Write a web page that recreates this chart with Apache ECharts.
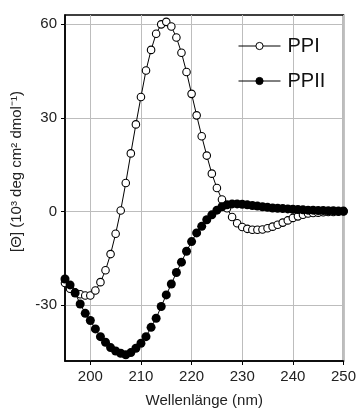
<!DOCTYPE html>
<html>
<head>
<meta charset="utf-8">
<script src="https://cdn.jsdelivr.net/npm/echarts@6/dist/echarts.min.js"></script>
<style>
  html, body { margin: 0; padding: 0; background: #fff; }
  #chart { width: 359px; height: 413px; }
</style>
</head>
<body>
<div id="chart"></div>
<script>
// Wellenlänge in nm, Schritt 1 nm
const wavelengths = [];
for (let nm = 195; nm <= 250; nm++) wavelengths.push(nm);

// [Θ] in 10^3 deg cm2 dmol-1
const ppiValues = [
  -23.0, -24.8, -26.0, -26.6, -27.0, -27.0, -25.4, -22.7, -18.9, -13.7,
  -7.2, 0.3, 9.1, 18.6, 27.9, 36.7, 45.2, 51.8, 57.0, 60.0,
  60.8, 59.3, 55.8, 50.9, 44.7, 37.7, 30.8, 24.1, 17.9, 12.1,
  7.5, 3.8, 1.0, -1.8, -3.8, -5.0, -5.6, -5.9, -5.9, -5.8,
  -5.4, -4.9, -4.3, -3.6, -2.9, -2.1, -1.6, -1.1, -0.7, -0.5,
  -0.4, -0.3, -0.2, -0.2, -0.1, 0.0
];
const ppiiValues = [
  -21.7, -23.6, -26.2, -29.7, -32.7, -35.0, -37.7, -40.2, -42.0, -43.7,
  -44.8, -45.5, -46.0, -45.3, -43.9, -42.3, -40.2, -37.2, -34.3, -30.5,
  -26.8, -23.3, -19.6, -16.3, -12.8, -9.7, -6.9, -4.8, -2.7, -1.1,
  0.4, 1.5, 2.1, 2.4, 2.4, 2.3, 2.1, 1.9, 1.7, 1.5,
  1.3, 1.1, 1.0, 0.9, 0.8, 0.7, 0.6, 0.5, 0.4, 0.4,
  0.3, 0.3, 0.2, 0.2, 0.1, 0.1
];
const xTicks = [200, 210, 220, 230, 240, 250];
const yTicks = [-30, 0, 30, 60];

const font = 'Liberation Sans, Arial, sans-serif';
const chart = echarts.init(document.getElementById('chart'));

const option = {
  animation: false,
  backgroundColor: '#fff',
  grid: {
    left: 65,
    right: 12,
    top: 15,
    bottom: 51,
    show: true,
    borderColor: '#000',
    borderWidth: 1.5
  },
  legend: {
    orient: 'vertical',
    left: 233,
    top: 31,
    itemWidth: 42,
    itemHeight: 9,
    itemGap: 15,
    lineStyle: { width: 1 },
    itemStyle: { borderWidth: 1 },
    textStyle: {
      fontFamily: font,
      fontSize: 20,
      color: '#111',
      padding: [0, 0, 0, 2]
    },
    data: ['PPI', 'PPII']
  },
  xAxis: {
    type: 'value',
    min: 195,
    max: 250,
    name: 'Wellenlänge (nm)',
    nameLocation: 'middle',
    nameGap: 32,
    nameTextStyle: { fontFamily: font, fontSize: 15, color: '#222' },
    axisLine: { show: true, onZero: false, lineStyle: { color: '#000', width: 1.5 } },
    axisTick: {
      show: true,
      inside: false,
      length: 4,
      customValues: xTicks,
      lineStyle: { color: '#000' }
    },
    axisLabel: {
      customValues: xTicks,
      margin: 8,
      fontFamily: font,
      fontSize: 15,
      color: '#222'
    },
    splitLine: { show: true, lineStyle: { color: '#bdbdbd', width: 1 } }
  },
  yAxis: {
    type: 'value',
    min: -48,
    max: 63,
    name: '[Θ] (10³ deg cm² dmol⁻¹)',
    nameLocation: 'middle',
    nameGap: 32,
    nameRotate: 90,
    nameTextStyle: {
      fontFamily: font,
      fontSize: 15,
      color: '#222',
      padding: [0, 0, 0, 33]
    },
    axisLine: { show: true, onZero: false, lineStyle: { color: '#000', width: 1.5 } },
    axisTick: {
      show: true,
      inside: false,
      length: 4,
      customValues: yTicks,
      lineStyle: { color: '#000' }
    },
    axisLabel: {
      customValues: yTicks,
      margin: 8,
      fontFamily: font,
      fontSize: 15,
      color: '#222'
    },
    splitLine: { show: true, lineStyle: { color: '#bdbdbd', width: 1 } }
  },
  series: [
    {
      name: 'PPI',
      type: 'line',
      data: wavelengths.map((w, i) => [w, ppiValues[i]]),
      symbol: 'circle',
      symbolSize: 7.5,
      showAllSymbol: true,
      lineStyle: { color: '#000', width: 1 },
      itemStyle: { color: '#fff', borderColor: '#000', borderWidth: 1.1 },
      z: 2
    },
    {
      name: 'PPII',
      type: 'line',
      data: wavelengths.map((w, i) => [w, ppiiValues[i]]),
      symbol: 'circle',
      symbolSize: 9,
      showAllSymbol: true,
      lineStyle: { color: '#000', width: 1 },
      itemStyle: { color: '#000', borderColor: '#000', borderWidth: 0 },
      z: 3
    }
  ]
};
chart.setOption(option);
</script>
</body>
</html>
